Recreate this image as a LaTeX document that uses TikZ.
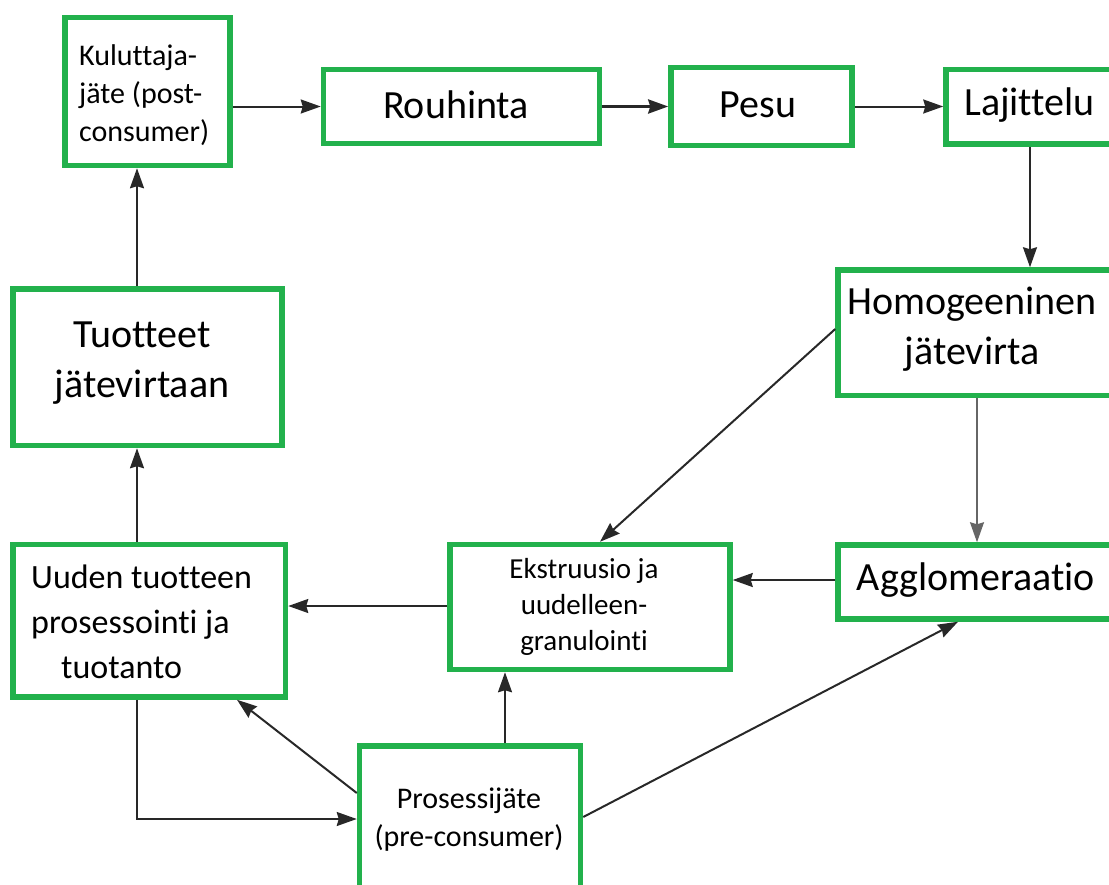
\documentclass[tikz,border=0pt]{standalone}
\usepackage{fontspec}
\setmainfont{Carlito}[Ligatures=NoCommon]
\usetikzlibrary{arrows.meta}
\definecolor{boxgreen}{RGB}{34,177,76}
\definecolor{linegray}{RGB}{40,40,40}
\tikzset{
  box/.style={draw=boxgreen, line width=5.5pt, fill=white, inner sep=0pt, rectangle},
  txt/.style={inner sep=0pt, text=black},
  big/.style={font=\fontsize{40}{50}\selectfont},
  mid/.style={font=\fontsize{34}{45}\selectfont},
  small/.style={font=\fontsize{30}{38}\selectfont},
  tiny/.style={font=\fontsize{29}{36}\selectfont},
  arr/.style={draw=linegray, line width=2pt, -{Stealth[length=20pt,width=14pt,inset=2pt]}},
}
\begin{document}
\begin{tikzpicture}[x=1pt,y=-1pt]
\useasboundingbox (0,0) rectangle (1109,884);
\clip (0,0) rectangle (1109,884);
% boxes
\node[box, minimum width=165pt, minimum height=148pt] (kul) at (147.5,91.5) {};
\node[box, minimum width=276pt, minimum height=74pt] (rou) at (461.5,106.5) {};
\node[box, minimum width=181pt, minimum height=78pt] (pes) at (761.5,106.5) {};
\node[box, minimum width=184pt, minimum height=74.5pt] (laj) at (1038,106.75) {};
\node[box, minimum width=292pt, minimum height=125.5pt] (hom) at (984,332.75) {};
\node[box, minimum width=292pt, minimum height=74pt] (agg) at (984,582) {};
\node[box, minimum width=280pt, minimum height=125pt] (eks) at (590,607) {};
\node[box, minimum width=272.5pt, minimum height=152.5pt] (uud) at (149.25,620.75) {};
\node[box, minimum width=269pt, minimum height=156.5pt] (tuo) at (147.5,367.25) {};
\node[box, minimum width=221pt, minimum height=154pt] (pro) at (470,823) {};
% texts
\node[txt, small, align=left, anchor=west] (kult) at (79,95) {Kuluttaja-\\jäte (post-\\consumer)};
\node[txt, big] (rout) at (456,105) {Rouhinta};
\node[txt, big] (pest) at (758,105) {Pesu};
\node[txt, big, anchor=west] (lajt) at (964,105) {Lajittelu};
\node[txt, big, align=center] (homt) at (972,329) {Homogeeninen\\jätevirta};
\node[txt, big] (aggt) at (976,580) {Agglomeraatio};
\node[txt, tiny, align=center] (ekst) at (584,607) {Ekstruusio ja\\uudelleen-\\granulointi};
\node[txt, mid, align=left, anchor=west] (uudt) at (31,622) {Uuden tuotteen\\prosessointi ja\\\hspace*{30pt}tuotanto};
\node[txt, big, align=center] (tuot) at (142,363) {Tuotteet\\jätevirtaan};
\node[txt, small, align=center] (prot) at (469,820) {Prosessijäte\\(pre-consumer)};
% helper coordinates
\coordinate (colx) at (137,0);
\coordinate (lajx) at (1030,0);
\coordinate (homx) at (977,0);
\coordinate (prox) at (505,0);
\coordinate (ekin) at (600,0);
\coordinate (uuin) at (237,0);
\coordinate (agin) at (958,0);
\coordinate (homy) at (0,329);
\coordinate (ekly) at (0,606);
\coordinate (agly) at (0,580);
\coordinate (pdy) at (0,793);
\coordinate (phy) at (0,819);
\coordinate (pay) at (0,817);
% connectors
\draw[arr] (kul.east |- rou.west) -- (rou.west);
\draw[arr, line width=3pt] (rou.east |- pes.west) -- (pes.west |- rou.east);
\draw[arr] (pes.east) -- (laj.west |- pes.east);
\draw[arr] (laj.south -| lajx) -- (hom.north -| lajx);
\draw[arr] (hom.west |- homy) -- (eks.north -| ekin);
\draw[arr, draw=gray!80!black, line width=1.5pt] (hom.south -| homx) -- (agg.north -| homx);
\draw[arr] (agg.west |- agly) -- (eks.east |- agly);
\draw[arr] (eks.west |- ekly) -- (uud.east |- ekly);
\draw[arr] (uud.north -| colx) -- (tuo.south -| colx);
\draw[arr] (tuo.north -| colx) -- (kul.south -| colx);
\draw[arr] (pro.west |- pdy) -- (uud.south -| uuin);
\draw[arr] (pro.north -| prox) -- (eks.south -| prox);
\draw[arr] (pro.east |- pay) -- (agg.south -| agin);
\draw[arr] (uud.south -| colx) |- (pro.west |- phy);
\end{tikzpicture}
\end{document}
